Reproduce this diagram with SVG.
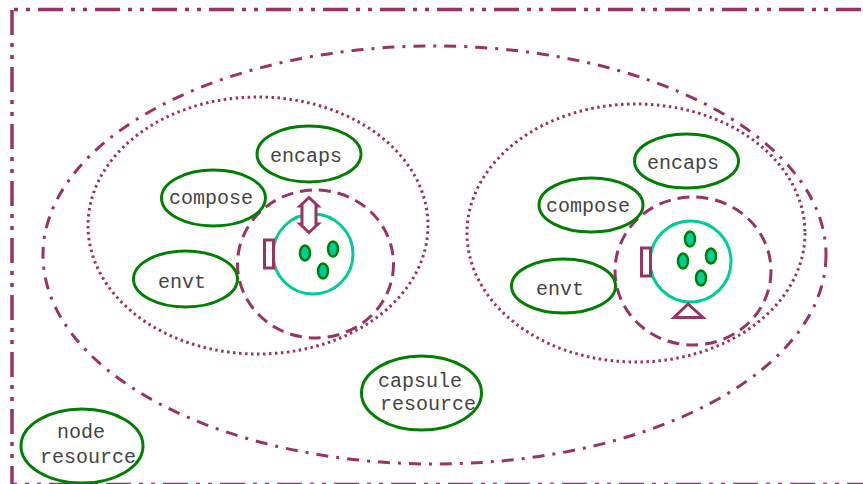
<svg xmlns="http://www.w3.org/2000/svg" width="863" height="484" viewBox="0 0 863 484">
<style>
.frame{fill:none;stroke:#993366;stroke-width:3.5;stroke-dasharray:25 8 4 8 4 8}
.dashdot{fill:none;stroke:#993366;stroke-width:3;stroke-dasharray:12 8 3 8}
.dotted{fill:none;stroke:#993366;stroke-width:3;stroke-dasharray:2.5 3.5}
.dashed{fill:none;stroke:#993366;stroke-width:3;stroke-dasharray:12 7}
.node{fill:#ffffff;stroke:#008000;stroke-width:3}
.ring{fill:none;stroke:#00CC99;stroke-width:3}
.dot{fill:#00CC99;stroke:#008000;stroke-width:2.5}
.port{fill:#ffffff;stroke:#993366;stroke-width:3}
text{font-family:"Liberation Mono","Courier New",monospace;font-size:20px;fill:#444444}
</style>
<rect width="863" height="484" fill="#ffffff"/>
<g id="frame">
<line class="frame" x1="12" y1="9.5" x2="863" y2="9.5" stroke-dashoffset="31"/>
<line class="frame" x1="12" y1="10" x2="12" y2="484"/>
<line class="frame" x1="12" y1="484.5" x2="863" y2="484.5" stroke-dashoffset="20"/>
</g>
<g id="capsule-outer">
<ellipse class="dashdot" cx="434.5" cy="255" rx="391.5" ry="209"/>
</g>
<g id="left-capsule">
<ellipse class="dotted" cx="258" cy="225.5" rx="170" ry="128.5"/>
<ellipse class="dashed" cx="315.5" cy="264" rx="78" ry="74"/>
</g>
<g id="right-capsule">
<ellipse class="dotted" cx="636" cy="233" rx="169" ry="129"/>
<ellipse class="dashed" cx="693" cy="271" rx="78" ry="74"/>
</g>
<g id="left-core">
<circle class="ring" cx="313" cy="254" r="40"/>
<ellipse class="dot" cx="305" cy="253" rx="5" ry="7.5"/>
<ellipse class="dot" cx="333" cy="249" rx="5" ry="7.5"/>
<ellipse class="dot" cx="323" cy="271" rx="5" ry="7.5"/>
<rect class="port" x="264.5" y="240" width="9" height="28"/>
<polygon class="port" points="309,197.5 300,206 302,206 302,224 300,224 309,232.5 318,224 316,224 316,206 318,206"/>
</g>
<g id="right-core">
<circle class="ring" cx="690.5" cy="261.5" r="40.5"/>
<ellipse class="dot" cx="690" cy="239" rx="5" ry="7.5"/>
<ellipse class="dot" cx="683" cy="261" rx="5" ry="7.5"/>
<ellipse class="dot" cx="711" cy="256" rx="5" ry="7.5"/>
<ellipse class="dot" cx="701" cy="278" rx="5" ry="7.5"/>
<rect class="port" x="641.5" y="248" width="9" height="28"/>
<polygon class="port" points="688,304 674,317.5 703,317.5"/>
</g>
<g id="encaps-left"><ellipse class="node" cx="309" cy="154" rx="52" ry="28"/><text x="270" y="162">encaps</text></g>
<g id="compose-left"><ellipse class="node" cx="213.5" cy="198" rx="52" ry="28"/><text x="169" y="204">compose</text></g>
<g id="envt-left"><ellipse class="node" cx="185.5" cy="279" rx="52" ry="28"/><text x="158" y="288">envt</text></g>
<g id="encaps-right"><ellipse class="node" cx="686.5" cy="161" rx="52" ry="27"/><text x="647" y="169">encaps</text></g>
<g id="compose-right"><ellipse class="node" cx="591" cy="205" rx="52" ry="27"/><text x="546" y="212">compose</text></g>
<g id="envt-right"><ellipse class="node" cx="563.5" cy="286" rx="52" ry="27"/><text x="536" y="295">envt</text></g>
<g id="capsule-resource"><ellipse class="node" cx="421.5" cy="393" rx="60" ry="37"/><text x="378" y="387">capsule</text><text x="380" y="410">resource</text></g>
<g id="node-resource"><ellipse class="node" cx="82" cy="446" rx="61" ry="37"/><text x="57" y="438">node</text><text x="40" y="463">resource</text></g>
<g id="connectors"></g>
</svg>
